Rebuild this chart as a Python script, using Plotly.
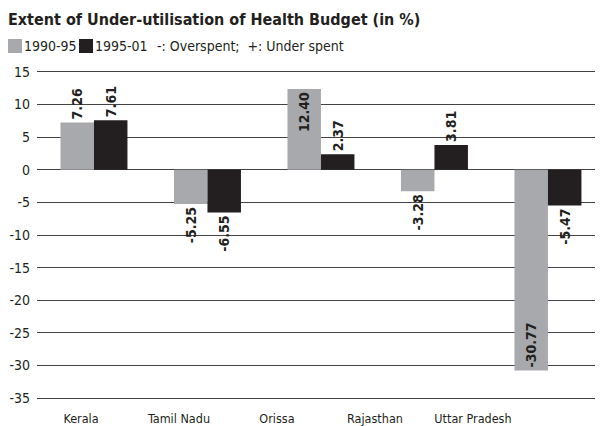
import plotly.graph_objects as go

categories = ["Kerala", "Tamil Nadu", "Orissa", "Rajasthan", "Uttar Pradesh"]
series_names = ["1990-95", "1995-01"]
series_1990_95 = [7.26, -5.25, 12.40, -3.28, -30.77]
series_1995_01 = [7.61, -6.55, 2.37, 3.81, -5.47]
pos_1990_95 = ["outside", "outside", "inside", "outside", "inside"]
pos_1995_01 = ["outside", "outside", "outside", "outside", "outside"]
ytick_vals = [15, 10, 5, 0, -5, -10, -15, -20, -25, -30, -35]
ytick_text = ["15", "10", "5", "0", "-5", "-10", "-15", "-20", "-25", "-30", "-35"]
note_text = "-: Overspent;  +: Under spent"

FONT = "DejaVu Sans Condensed, Liberation Sans Narrow, sans-serif"
GRAY = "#a7a9ac"
BLACK = "#231f20"
OFF = 8  # page body margin offset
W, H = 603 - OFF, 426 - OFF
ML, MR, MT, MB = 37 - OFF, 0, 70 - OFF, 26
PW, PH = W - ML - MR, H - MT - MB

def fmt(v):
    return f"{v:.2f}"

def px_x(x):  # window px -> paper
    return (x - OFF - ML) / PW

def px_y(y):
    return 1 - (y - OFF - MT) / PH

fig = go.Figure()
for name, vals, pos, col in [(series_names[0], series_1990_95, pos_1990_95, GRAY),
                             (series_names[1], series_1995_01, pos_1995_01, BLACK)]:
    fig.add_trace(go.Bar(
        name=name, x=categories, y=vals, marker_color=col, marker_line_width=0,
        text=[fmt(v) for v in vals], textposition=pos,
        textangle=-90, insidetextanchor="end", constraintext="none", cliponaxis=False,
        textfont=dict(family=FONT, size=14, color=BLACK, weight="bold"),
        showlegend=False,
    ))

n = len(categories)
shapes = []
annotations = []
legend_items = [(GRAY, series_names[0], 8), (BLACK, series_names[1], 79)]
for col, label, x0 in legend_items:
    shapes.append(dict(type="rect", xref="paper", yref="paper",
                       x0=px_x(x0), x1=px_x(x0 + 14), y0=px_y(53), y1=px_y(39),
                       fillcolor=col, line_width=0))
    annotations.append(dict(text=label, xref="paper", yref="paper",
                            x=px_x(x0 + 14), y=px_y(46), xanchor="left", yanchor="middle",
                            showarrow=False, font=dict(family=FONT, size=14, color=BLACK)))
annotations.append(dict(text=note_text, xref="paper", yref="paper",
                        x=px_x(155), y=px_y(46), xanchor="left", yanchor="middle",
                        showarrow=False, font=dict(family=FONT, size=14, color=BLACK)))

fig.update_layout(
    width=W, height=H,
    margin=dict(l=ML, r=MR, t=MT, b=MB, autoexpand=False),
    paper_bgcolor="white", plot_bgcolor="white",
    font=dict(family=FONT, size=14, color=BLACK),
    barmode="group", bargap=0.41, bargroupgap=0,
    showlegend=False,
    title=dict(text="<b>Extent of Under-utilisation of Health Budget (in %)</b>",
               x=0, xref="container", xanchor="left",
               y=1-(19-OFF)/H, yref="container", yanchor="middle",
               font=dict(family=FONT, size=16, color=BLACK)),
    xaxis=dict(type="category", range=[-0.502, n - 0.515], showticklabels=False,
               showgrid=False, zeroline=False, showline=False, ticks=""),
    xaxis2=dict(overlaying="x", anchor="y", side="bottom",
                range=[-0.449, n + 0.327], tickmode="array",
                tickvals=list(range(n)), ticktext=categories,
                showgrid=False, zeroline=False, showline=False, ticks="",
                ticklabelstandoff=9,
                tickfont=dict(family=FONT, size=12.5, color=BLACK)),
    yaxis=dict(range=[-35.3, 15.3], tickmode="array", tickvals=ytick_vals,
               ticktext=ytick_text, showgrid=True, gridcolor="#444444", gridwidth=1.3,
               zeroline=True, zerolinecolor="#444444", zerolinewidth=1.3,
               showline=False, ticks="", ticklabelstandoff=6,
               tickfont=dict(family=FONT, size=14, color=BLACK)),
    shapes=shapes,
    annotations=annotations,
)
fig.add_trace(go.Scatter(x=list(range(n)), y=[0]*n, xaxis="x2", mode="markers",
                         marker=dict(opacity=0), showlegend=False, hoverinfo="skip"))
fig.write_html("out.html")
